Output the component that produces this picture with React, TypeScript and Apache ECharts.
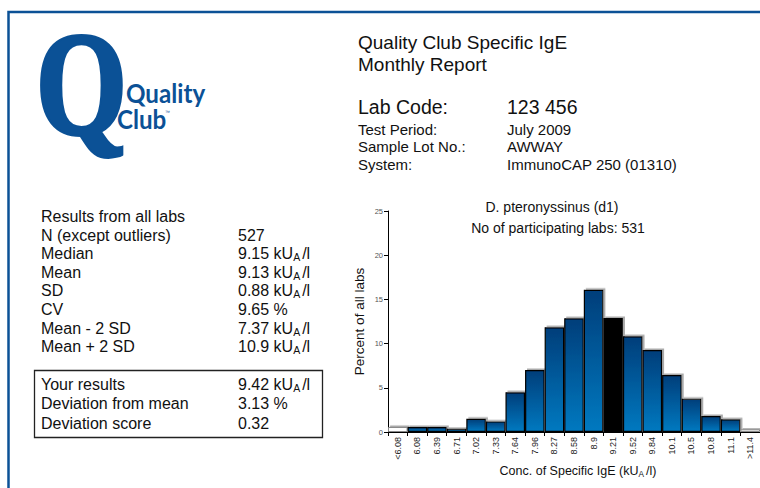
import React, { useEffect, useRef } from "react";
import * as echarts from "echarts";

const categories = ["<6.08", "6.08", "6.39", "6.71", "7.02", "7.33", "7.64", "7.96", "8.27", "8.58", "8.9", "9.21", "9.52", "9.84", "10.1", "10.5", "10.8", "11.1", ">11.4"];
const percents = [0.57, 0.57, 0.57, 0.38, 1.5, 1.2, 4.5, 7.0, 11.85, 12.87, 16.1, 12.9, 10.83, 9.28, 6.45, 3.77, 1.81, 1.43, 0.3];
const ownCategory = "9.21";
const outlierCategories = ["<6.08", ">11.4"];
const yMax = 25;
const yStep = 5;

const headerTitle = ["Quality Club Specific IgE", "Monthly Report"];
const labCode = ["Lab Code:", "123 456"];
const headerLabels = ["Test Period:", "Sample Lot No.:", "System:"];
const headerValues = ["July 2009", "AWWAY", "ImmunoCAP 250 (01310)"];

const statsTitle = "Results from all labs";
const statLabels = ["N (except outliers)", "Median", "Mean", "SD", "CV", "Mean - 2 SD", "Mean + 2 SD"];
const statValues = ["527", "9.15 kU_A/l", "9.13 kU_A/l", "0.88 kU_A/l", "9.65 %", "7.37 kU_A/l", "10.9 kU_A/l"];
const ownLabels = ["Your results", "Deviation from mean", "Deviation score"];
const ownValues = ["9.42 kU_A/l", "3.13 %", "0.32"];

const chartTitle = "D. pteronyssinus (d1)";
const chartSubtitle = "No of participating labs: 531";
const yName = "Percent of all labs";
const xName = "Conc. of Specific IgE (kU_A/l)";

const FONT = '"Liberation Sans", Arial, Helvetica, sans-serif';
const BLUE = "#0b5196";
const INK = "#111";

function richText(s: string) {
  const parts = s.split("_A");
  if (parts.length === 1) return `{v|${s}}`;
  return `{v|${parts[0]}}{s|A}{v|${parts[1]}}`;
}

function richStyles(size: number) {
  return {
    v: { fontSize: size, fontFamily: FONT, fill: INK, lineHeight: size + 2 },
    s: { fontSize: size * 0.66, fontFamily: FONT, fill: INK, lineHeight: size * 0.5, verticalAlign: "bottom", padding: [0, 2, 0, 0] },
  };
}

function txt(x: number, y: number, text: string, size: number, extra: any = {}) {
  return {
    type: "text",
    x,
    y,
    silent: true,
    style: {
      text,
      font: `${size}px ${FONT}`,
      fill: INK,
      textAlign: "left",
      textVerticalAlign: "middle",
      ...extra,
    },
  };
}

function richTxt(x: number, y: number, text: string, size: number, align = "left") {
  return {
    type: "text",
    x,
    y,
    silent: true,
    style: {
      text: richText(text),
      rich: richStyles(size),
      textAlign: align,
      textVerticalAlign: "middle",
    },
  };
}

export default function App() {
  const ref = useRef<HTMLDivElement>(null);

  useEffect(() => {
    if (!ref.current) return;
    const chart = echarts.init(ref.current, undefined, { renderer: "svg" });

    const gradient = new echarts.graphic.LinearGradient(0, 0, 0, 1, [
      { offset: 0, color: "#003e7a" },
      { offset: 1, color: "#0679c0" },
    ]);

    const barData = categories.map((c, i) => {
      let itemStyle: any;
      if (outlierCategories.includes(c)) {
        itemStyle = { color: "#fff", borderColor: "#888", borderWidth: 1 };
      } else if (c === ownCategory) {
        itemStyle = { color: "#000", borderColor: "#000", borderWidth: 1.2 };
      } else {
        itemStyle = { color: gradient, borderColor: "#000", borderWidth: 1.2 };
      }
      return { value: percents[i], itemStyle };
    });

    const graphics: any[] = [];
    graphics.push({
      type: "rect",
      silent: true,
      shape: { x: 8.5, y: 12, width: 800, height: 600 },
      style: { fill: "none", stroke: BLUE, lineWidth: 2.5 },
    });
    graphics.push({
      type: "text",
      x: 36,
      y: 84,
      scaleX: 0.8,
      silent: true,
      style: {
        text: "Q",
        font: `bold 146px "Liberation Serif", "DejaVu Serif", serif`,
        fill: BLUE,
        stroke: BLUE,
        lineWidth: 4,
        textAlign: "left",
        textVerticalAlign: "middle",
      },
    });
    graphics.push({
      type: "text",
      x: 126,
      y: 93,
      scaleX: 0.93,
      silent: true,
      style: { text: "Quality", font: `bold 26px Lato, "Open Sans", sans-serif`, fill: BLUE, textAlign: "left", textVerticalAlign: "middle" },
    });
    graphics.push({
      type: "text",
      x: 117,
      y: 119,
      scaleX: 0.93,
      silent: true,
      style: { text: "Club", font: `bold 26px Lato, "Open Sans", sans-serif`, fill: BLUE, textAlign: "left", textVerticalAlign: "middle" },
    });
    graphics.push({
      type: "text",
      x: 165,
      y: 112,
      silent: true,
      style: { text: "™", font: `5px ${FONT}`, fill: BLUE, textAlign: "left", textVerticalAlign: "middle" },
    });

    graphics.push(txt(358, 42, headerTitle[0], 19));
    graphics.push(txt(358, 64, headerTitle[1], 19));
    graphics.push(txt(358, 107, labCode[0], 19.5));
    graphics.push(txt(507, 107, labCode[1], 19.5));
    const headerY = [129, 146, 164];
    headerLabels.forEach((l, i) => {
      graphics.push(txt(358, headerY[i], l, 15));
      graphics.push(txt(507, headerY[i], headerValues[i], 15));
    });

    const statSize = 16;
    graphics.push(txt(41, 216, statsTitle, statSize));
    statLabels.forEach((l, i) => {
      const y = 235 + i * 18.6;
      graphics.push(txt(41, y, l, statSize));
      graphics.push(richTxt(238, y, statValues[i], statSize));
    });
    graphics.push({
      type: "rect",
      silent: true,
      shape: { x: 34.5, y: 370.5, width: 288, height: 67 },
      style: { fill: "none", stroke: "#222", lineWidth: 1.3 },
    });
    ownLabels.forEach((l, i) => {
      const y = 384 + i * 19.5;
      graphics.push(txt(41, y, l, statSize));
      graphics.push(richTxt(238, y, ownValues[i], statSize));
    });

    graphics.push(txt(552, 207, chartTitle, 14, { textAlign: "center" }));
    graphics.push(txt(558, 228, chartSubtitle, 14, { textAlign: "center" }));
    graphics.push(richTxt(578, 471, xName, 12.5, "center"));

    chart.setOption({
      animation: false,
      grid: { left: 388, top: 211, right: -8, bottom: 56, containLabel: false },
      xAxis: {
        type: "category",
        data: categories,
        boundaryGap: true,
        axisLine: { show: true, lineStyle: { color: "#000", width: 1 } },
        axisTick: { show: true, interval: 0, length: 4, lineStyle: { color: "#000" } },
        axisLabel: { interval: 0, rotate: 90, fontSize: 9, color: "#222", fontFamily: FONT, margin: 5 },
        splitLine: { show: false },
      },
      yAxis: {
        type: "value",
        min: 0,
        max: yMax,
        interval: yStep,
        axisLine: { show: true, lineStyle: { color: "#000", width: 1 } },
        axisTick: { show: true, length: 4, lineStyle: { color: "#000" } },
        axisLabel: { fontSize: 7.5, color: "#555", fontFamily: FONT, margin: 5 },
        splitLine: { show: false },
        name: yName,
        nameLocation: "middle",
        nameGap: 22,
        nameRotate: 90,
        nameTextStyle: { fontSize: 13.5, color: INK, fontFamily: FONT },
      },
      series: [
        {
          type: "bar",
          data: barData,
          barCategoryGap: "0%",
          barGap: "0%",
          itemStyle: { shadowColor: "#aaa", shadowOffsetX: 2, shadowOffsetY: -1.5, shadowBlur: 0 },
        },
      ],
      graphic: graphics,
    });

    return () => chart.dispose();
  }, []);

  return <div ref={ref} style={{ position: "fixed", left: 0, top: 0, width: 760, height: 488, background: "#fff" }} />;
}
